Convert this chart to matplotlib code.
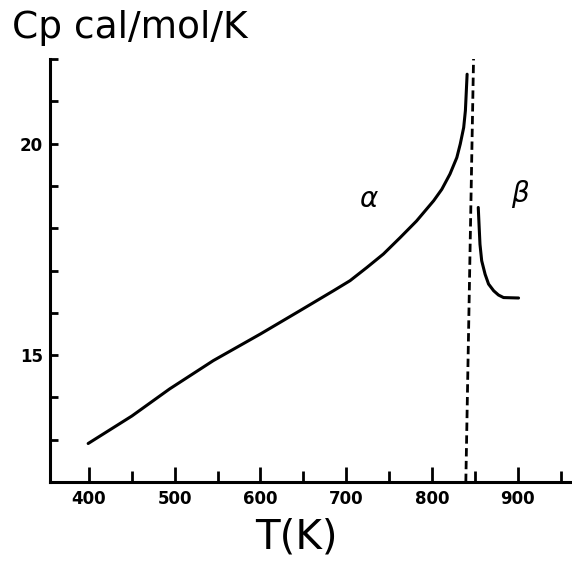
"""Heat capacity of alpha / beta phases vs temperature."""

import matplotlib
matplotlib.use("Agg")
import matplotlib.pyplot as plt

# alpha phase curve
alpha_T = [399, 450, 494, 545, 600, 646, 685, 704.5, 724, 743.4, 763, 782,
           802, 811.5, 821, 829, 833, 837, 839, 841]
alpha_cp = [12.91, 13.56, 14.20, 14.87, 15.50, 16.05, 16.52, 16.76, 17.07, 17.39,
            17.78, 18.17, 18.65, 18.92, 19.28, 19.67, 19.99, 20.38, 20.78, 21.64]

# beta phase curve
beta_T = [854, 855, 856, 858, 862, 866, 872, 877.6, 883.5, 901]
beta_cp = [18.49, 18.05, 17.62, 17.23, 16.91, 16.68, 16.52, 16.42, 16.36, 16.35]

# transition line (slightly tilted in the drawing)
trans_T = [839.5, 848.5]
trans_cp = [12.0, 22.0]

x_major = [400, 500, 600, 700, 800, 900]
x_minor = [450, 550, 650, 750, 850, 950]
y_ticks = list(range(13, 23))
y_labels = {15: "15", 20: "20"}


def main() -> None:
    fig = plt.figure(figsize=(5.72, 5.62), dpi=100)
    ax = fig.add_axes([50 / 572, 80 / 562, 520 / 572, 423 / 562])

    ax.plot(alpha_T, alpha_cp, color="black", lw=2.2,
            solid_capstyle="round", solid_joinstyle="round")
    ax.plot(beta_T, beta_cp, color="black", lw=2.2,
            solid_capstyle="round", solid_joinstyle="round")
    ax.plot(trans_T, trans_cp, color="black", lw=2.0, linestyle=(0, (3, 1.6)))

    ax.text(726, 18.69, r"$\alpha$", fontsize=20, ha="center", va="center")
    ax.text(903, 18.8, r"$\beta$", fontsize=20, ha="center", va="center")

    ax.set_xlim(354.5, 961)
    ax.set_ylim(12, 22)

    for side in ("top", "right"):
        ax.spines[side].set_visible(False)
    for side in ("left", "bottom"):
        ax.spines[side].set_linewidth(2.2)

    ax.set_xticks(x_major)
    ax.set_xticks(x_minor, minor=True)
    ax.set_xticklabels([str(v) for v in x_major], fontsize=12, fontweight="bold")
    ax.tick_params(axis="x", which="major", direction="in", length=11, width=2, pad=6)
    ax.tick_params(axis="x", which="minor", direction="in", length=8, width=2)

    ax.set_yticks(y_ticks)
    ax.set_yticklabels([y_labels.get(v, "") for v in y_ticks],
                       fontsize=12, fontweight="bold")
    ax.tick_params(axis="y", direction="in", length=6, width=2, pad=5)

    fig.text(12 / 572, 1 - 28 / 562, "Cp cal/mol/K", fontsize=27,
             ha="left", va="center")
    fig.text(296 / 572, 1 - 538 / 562, "T(K)", fontsize=29,
             ha="center", va="center")

    fig.savefig("out.png", dpi=100)


if __name__ == "__main__":
    main()
